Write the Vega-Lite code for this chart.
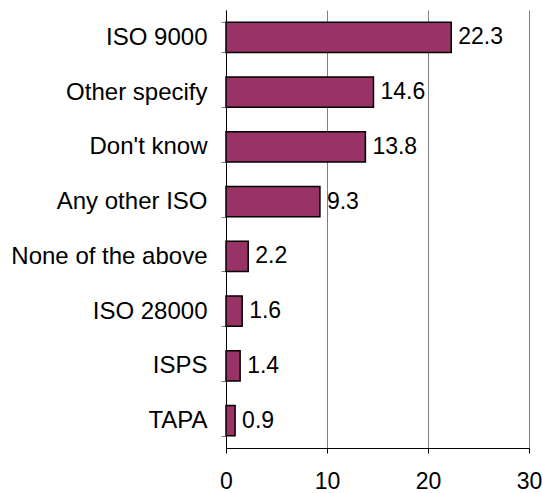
{
  "$schema": "https://vega.github.io/schema/vega-lite/v6.json",
  "autosize": "none",
  "width": 303,
  "height": 438,
  "padding": {"left": 226, "top": 10, "right": 14, "bottom": 45},
  "background": "white",
  "data": {
    "values": [
      {"item": "ISO 9000", "value": 22.3},
      {"item": "Other specify", "value": 14.6},
      {"item": "Don't know", "value": 13.8},
      {"item": "Any other ISO", "value": 9.3},
      {"item": "None of the above", "value": 2.2},
      {"item": "ISO 28000", "value": 1.6},
      {"item": "ISPS", "value": 1.4},
      {"item": "TAPA", "value": 0.9}
    ]
  },
  "config": {
    "view": {"stroke": null},
    "font": "Liberation Sans",
    "axis": {"labelFont": "Liberation Sans", "labelColor": "black", "domainColor": "black", "tickColor": "black", "domainWidth": 1, "tickWidth": 1}
  },
  "encoding": {
    "y": {
      "field": "item", "type": "nominal", "sort": null, "title": null,
      "scale": {"paddingInner": 0.45, "paddingOuter": 0.225},
      "axis": {"tickBand": "extent", "tickSize": 5, "labelPadding": 14, "labelFontSize": 24, "labelLimit": 300, "grid": false, "tickColor": "#808080"}
    },
    "x": {
      "field": "value", "type": "quantitative", "title": null,
      "scale": {"domain": [0, 30], "nice": false},
      "axis": {"values": [0, 10, 20, 30], "tickSize": 5, "labelPadding": 17, "labelFontSize": 23, "grid": true, "gridColor": "#808080", "gridWidth": 1, "labelFlush": false}
    }
  },
  "layer": [
    {"mark": {"type": "bar", "color": "#993366", "stroke": "black", "strokeWidth": 1.5}},
    {"mark": {"type": "text", "align": "left", "baseline": "middle", "dx": 7, "fontSize": 23, "color": "black"}, "encoding": {"text": {"field": "value", "type": "quantitative", "format": ".1f"}}}
  ]
}
